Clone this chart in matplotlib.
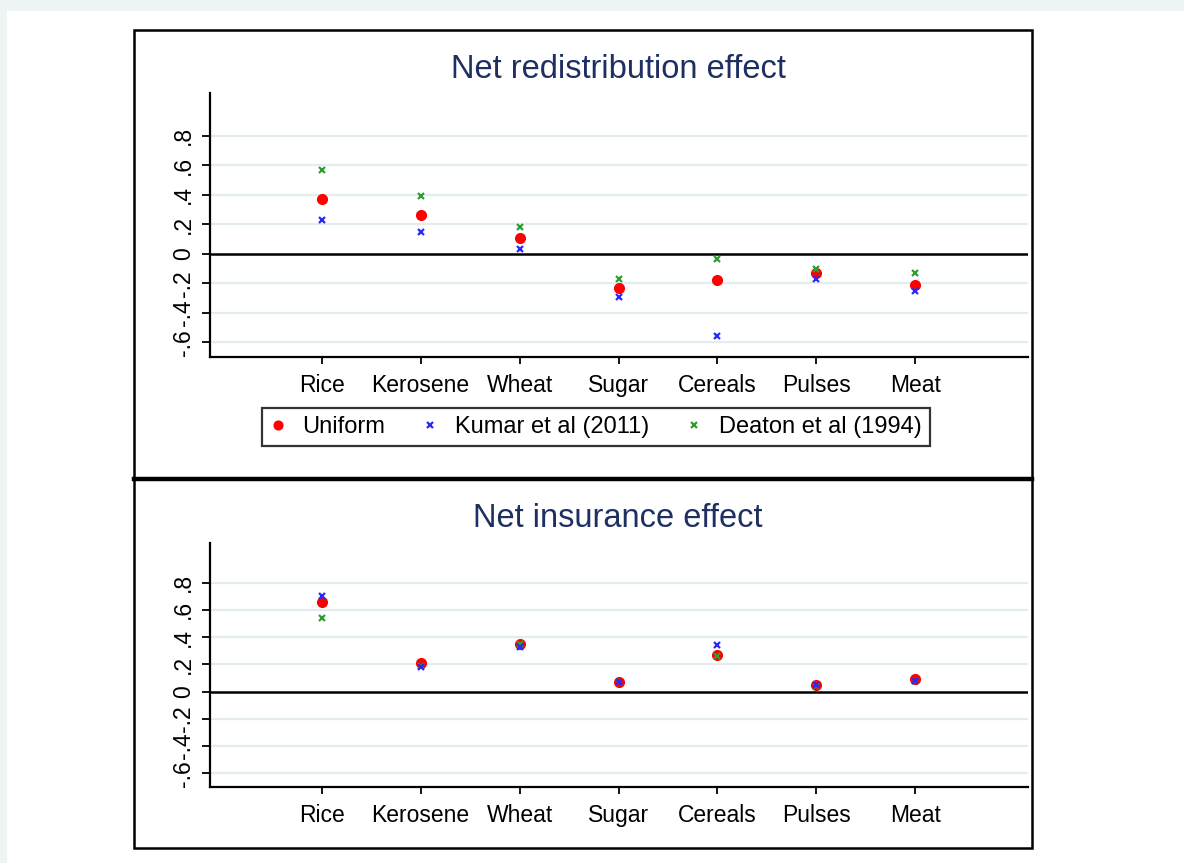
import matplotlib.pyplot as plt
import numpy as np
from matplotlib.lines import Line2D
from matplotlib.patches import Rectangle

plt.rcParams['font.family'] = ['Liberation Sans', 'DejaVu Sans']

# --- dati ---
categories = ['Rice', 'Kerosene', 'Wheat', 'Sugar', 'Cereals', 'Pulses', 'Meat']
series_names = ['Uniform', 'Kumar et al (2011)', 'Deaton et al (1994)']

redis_uniform = [0.37, 0.26, 0.11, -0.23, -0.18, -0.13, -0.21]
redis_kumar = [0.23, 0.15, 0.03, -0.29, -0.56, -0.17, -0.25]
redis_deaton = [0.57, 0.39, 0.18, -0.17, -0.035, -0.10, -0.13]

insur_uniform = [0.66, 0.21, 0.35, 0.07, 0.27, 0.05, 0.09]
insur_kumar = [0.70, 0.18, 0.33, 0.07, 0.34, 0.045, 0.08]
insur_deaton = [0.54, 0.19, 0.35, 0.07, 0.26, 0.04, 0.08]

ytick_vals = [-0.6, -0.4, -0.2, 0.0, 0.2, 0.4, 0.6, 0.8]
ytick_labels = ['-.6', '-.4', '-.2', '0', '.2', '.4', '.6', '.8']

W, H = 1184, 863
fig = plt.figure(figsize=(W / 100, H / 100), dpi=100)
fig.patch.set_facecolor('white')

def px_rect(x0, y0, x1, y1):
    # pixel box (top-left origin) -> figure fraction
    return [x0 / W, 1 - y1 / H, (x1 - x0) / W, (y1 - y0) / H]

# bordo grigio chiaro dello screenshot
fig.patches.append(Rectangle((0, 1 - 11 / H), 1, 11 / H, transform=fig.transFigure,
                             facecolor='#eef3f4', edgecolor='none', zorder=0))
fig.patches.append(Rectangle((0, 0), 7 / W, 1, transform=fig.transFigure,
                             facecolor='#eef3f4', edgecolor='none', zorder=0))

# cornice esterna e divisore
fig.patches.append(Rectangle((134 / W, 1 - 848 / H), (1032 - 134) / W, (848 - 30) / H,
                             transform=fig.transFigure, facecolor='none',
                             edgecolor='black', lw=1.8, zorder=1))
fig.add_artist(Line2D([134 / W, 1032 / W], [1 - 479 / H, 1 - 479 / H],
                      transform=fig.transFigure, color='black', lw=3.2))

title_color = '#1f2f62'
x = np.arange(1, len(categories) + 1)

def panel(rect, uni, kum, dea, title, title_y):
    ax = fig.add_axes(px_rect(*rect))
    ax.set_xlim(1 - 1.13, len(categories) + 1.14)
    ax.set_ylim(-0.70, 1.09)
    for v in ytick_vals:
        if v != 0:
            ax.axhline(v, color='#e3edf0', lw=1.6, zorder=0)
    ax.axhline(0, color='black', lw=1.8, zorder=1)
    ax.plot(x, uni, 'o', color='red', ms=7, zorder=3, label=series_names[0])
    ax.plot(x, dea, 'x', color='#2e9e2e', ms=5, mew=1.6, zorder=4, label=series_names[2])
    ax.plot(x, kum, 'x', color='#2a2af5', ms=5, mew=1.6, zorder=5, label=series_names[1])
    ax.set_yticks(ytick_vals)
    ax.set_yticklabels(ytick_labels, rotation=90, va='center', fontsize=16.5)
    ax.set_xticks(x)
    ax.set_xticklabels(categories, fontsize=16.5)
    ax.tick_params(axis='y', length=6, width=1.3, pad=5)
    ax.tick_params(axis='x', length=5, width=1.3, pad=7)
    for s in ['top', 'right']:
        ax.spines[s].set_visible(False)
    for s in ['left', 'bottom']:
        ax.spines[s].set_linewidth(1.6)
    fig.text(618 / W, 1 - title_y / H, title, ha='center', va='center',
             fontsize=23.5, color=title_color)
    return ax

ax1 = panel((210, 93, 1028, 357), redis_uniform, redis_kumar, redis_deaton,
            'Net redistribution effect', 69)
ax2 = panel((210, 543, 1028, 787), insur_uniform, insur_kumar, insur_deaton,
            'Net insurance effect', 518)

handles, labels = ax1.get_legend_handles_labels()
order = [0, 2, 1]
leg = fig.legend([handles[i] for i in order], [labels[i] for i in order],
                 loc='center', bbox_to_anchor=(596 / W, 1 - 427 / H), ncol=3,
                 fontsize=17, frameon=True, fancybox=False, handlelength=0.6,
                 handletextpad=0.75, columnspacing=1.6, borderpad=0.35,
                 borderaxespad=0, markerscale=0.9)
leg.get_frame().set_edgecolor('black')
leg.get_frame().set_linewidth(1.6)

fig.savefig('out.png', dpi=100)
